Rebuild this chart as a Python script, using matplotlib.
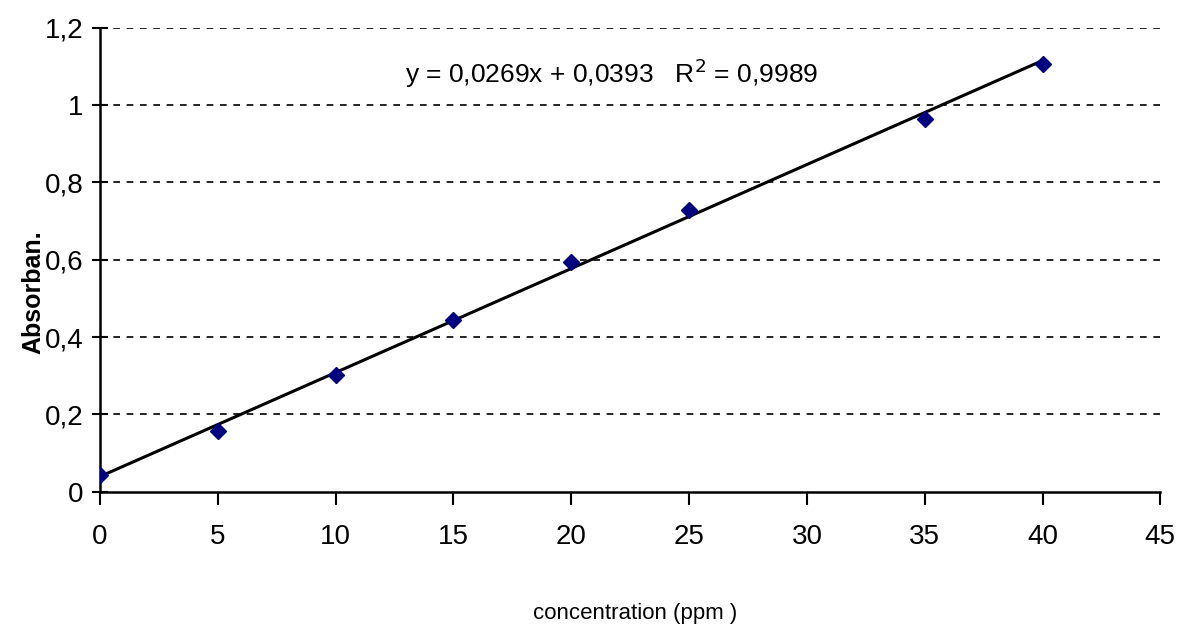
import numpy as np
import matplotlib.pyplot as plt

conc = [0, 5, 10, 15, 20, 25, 35, 40]
absorb = [0.043, 0.158, 0.303, 0.445, 0.595, 0.728, 0.965, 1.106]
fit_coef = [0.0269, 0.0393]
x_ticks = [0, 5, 10, 15, 20, 25, 30, 35, 40, 45]
y_ticks = [0, 0.2, 0.4, 0.6, 0.8, 1.0, 1.2]
y_labels = ['0', '0,2', '0,4', '0,6', '0,8', '1', '1,2']

font = ['Liberation Sans Narrow', 'Liberation Sans', 'DejaVu Sans']
plt.rcParams['font.family'] = font

fig = plt.figure(figsize=(11.84, 6.32), dpi=100)
ax = fig.add_axes([0.0845, 0.222, 0.8955, 0.734])

xs = np.array([conc[0], conc[-1]])
ax.plot(xs, np.polyval(fit_coef, xs), color='black', lw=2.2, zorder=3)
ax.plot(conc, absorb, linestyle='none', marker='D', ms=8, color='#000080', zorder=4)

for v in y_ticks[1:]:
    ax.axhline(v, color='black', lw=1.2, dashes=(4, 4), zorder=1)

ax.set_xlim(0, 45)
ax.set_ylim(0, 1.2)
ax.set_xticks(x_ticks)
ax.set_xticklabels([str(t) for t in x_ticks])
ax.set_yticks(y_ticks)
ax.set_yticklabels(y_labels)
ax.tick_params(axis='x', direction='out', length=9, width=1.5, labelsize=20, pad=14)
ax.tick_params(axis='y', direction='inout', length=12, width=1.5, labelsize=20, pad=6)
for s in ['top', 'right']:
    ax.spines[s].set_visible(False)
for s in ['left', 'bottom']:
    ax.spines[s].set_linewidth(1.8)

ax.text(0.482, 0.903, 'y = 0,0269x + 0,0393   R$^2$ = 0,9989', transform=ax.transAxes,
        fontsize=19, va='center', ha='center')
ax.set_ylabel('Absorban.', fontsize=18, fontweight='bold')
ax.yaxis.set_label_coords(-0.052, 0.43)
ax.set_xlabel('concentration (ppm )', fontsize=16)
ax.xaxis.set_label_coords(0.505, -0.24)

fig.savefig('out.png', dpi=100)
